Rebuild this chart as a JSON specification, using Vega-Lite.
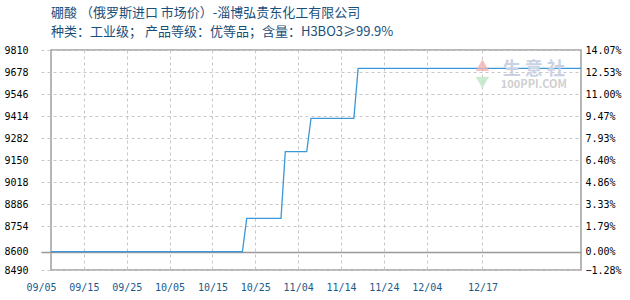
{
  "$schema": "https://vega.github.io/schema/vega-lite/v6.json",
  "autosize": {"type": "none"},
  "width": 530,
  "height": 220,
  "padding": {"left": 51, "top": 50, "right": 49, "bottom": 30},
  "background": "white",
  "title": {
    "text": "硼酸 （俄罗斯进口 市场价）-淄博弘贵东化工有限公司",
    "subtitle": "种类：工业级；  产品等级：优等品；含量：H3BO3≥99.9%",
    "anchor": "start",
    "frame": "group",
    "font": "Noto Sans CJK SC",
    "fontSize": 13,
    "fontWeight": "normal",
    "color": "#1a4f7a",
    "subtitleFont": "Noto Sans CJK SC",
    "subtitleFontSize": 13,
    "subtitleColor": "#1a4f7a",
    "subtitlePadding": 6,
    "offset": 6
  },
  "config": {
    "view": {"stroke": "#a0a0a0", "strokeWidth": 1.5},
    "axis": {
      "labelFont": "DejaVu Sans Mono",
      "labelFontSize": 10,
      "ticks": false,
      "domain": false,
      "title": null
    }
  },
  "layer": [
    {
      "data": {
        "values": [
          {"date": "2023/09/07", "price": 8600},
          {"date": "2023/10/22", "price": 8600},
          {"date": "2023/10/23", "price": 8800},
          {"date": "2023/10/31", "price": 8800},
          {"date": "2023/11/01", "price": 9200},
          {"date": "2023/11/06", "price": 9200},
          {"date": "2023/11/07", "price": 9400},
          {"date": "2023/11/17", "price": 9400},
          {"date": "2023/11/18", "price": 9700},
          {"date": "2024/01/09", "price": 9700}
        ]
      },
      "mark": {"type": "line", "color": "#3a98d8", "strokeWidth": 1.3, "clip": true},
      "encoding": {
        "x": {
          "field": "date",
          "type": "temporal",
          "scale": {
            "domain": [{"year": 2023, "month": 9, "date": 5}, {"year": 2024, "month": 1, "date": 9}],
            "range": [-10, 530]
          },
          "axis": {
            "values": [
              {"year": 2023, "month": 9, "date": 5},
              {"year": 2023, "month": 9, "date": 15},
              {"year": 2023, "month": 9, "date": 25},
              {"year": 2023, "month": 10, "date": 5},
              {"year": 2023, "month": 10, "date": 15},
              {"year": 2023, "month": 10, "date": 25},
              {"year": 2023, "month": 11, "date": 4},
              {"year": 2023, "month": 11, "date": 14},
              {"year": 2023, "month": 11, "date": 24},
              {"year": 2023, "month": 12, "date": 4},
              {"year": 2023, "month": 12, "date": 17}
            ],
            "format": "%m/%d",
            "labelColor": "#1a5a8a",
            "labelPadding": 12,
            "labelFlush": false,
            "labelOverlap": false,
            "grid": true,
            "gridColor": "#c8c8c8",
            "gridDash": [3, 3],
            "gridOpacity": {"condition": {"test": "datum.value < datetime(2023, 8, 6)", "value": 0}, "value": 1}
          }
        },
        "y": {
          "field": "price",
          "type": "quantitative",
          "scale": {"domain": [8490, 9810], "nice": false, "zero": false},
          "axis": {
            "orient": "left",
            "values": [8490, 8600, 8754, 8886, 9018, 9150, 9282, 9414, 9546, 9678, 9810],
            "format": "d",
            "labelPadding": 23,
            "grid": true,
            "gridColor": {"condition": {"test": "datum.value == 8600", "value": "#999999"}, "value": "#c8c8c8"},
            "gridDash": {"condition": {"test": "datum.value == 8600", "value": []}, "value": [3, 3]},
            "gridWidth": {"condition": {"test": "datum.value == 8600", "value": 1.5}, "value": 1},
            "encode": {
              "labels": {
                "update": {
                  "fill": {"signal": "datum.value > 8600 ? '#ff3333' : datum.value == 8600 ? '#000000' : '#33aa33'"}
                }
              }
            }
          }
        }
      }
    },
    {
      "data": {
        "values": [
          {"date": "2023/12/29", "price": 9693, "label": "生 意 社", "kind": "big"},
          {"date": "2023/12/29", "price": 9598, "label": "100PPI.COM", "kind": "small"}
        ]
      },
      "mark": {"type": "text", "font": "Noto Sans CJK SC", "fontWeight": "bold"},
      "encoding": {
        "x": {"field": "date", "type": "temporal"},
        "y": {
          "field": "price",
          "type": "quantitative",
          "axis": {
            "orient": "right",
            "values": [8490, 8600, 8754, 8886, 9018, 9150, 9282, 9414, 9546, 9678, 9810],
            "labelExpr": "format((datum.value - 8600) / 86, '.2f') + '%'",
            "labelPadding": 4,
            "grid": false,
            "encode": {
              "labels": {
                "update": {
                  "fill": {"signal": "datum.value > 8600 ? '#ff3333' : datum.value == 8600 ? '#000000' : '#33aa33'"}
                }
              }
            }
          }
        },
        "text": {"field": "label"},
        "size": {"field": "kind", "type": "nominal", "scale": {"domain": ["big", "small"], "range": [18, 11]}, "legend": null},
        "color": {"field": "kind", "type": "nominal", "scale": {"domain": ["big", "small"], "range": ["#c9d1e2", "#cfcfcf"]}, "legend": null}
      }
    },
    {
      "data": {
        "values": [
          {"date": "2023/12/17", "price": 9719, "shape": "up"},
          {"date": "2023/12/17", "price": 9615, "shape": "down"}
        ]
      },
      "mark": {"type": "point", "filled": true, "size": 180, "opacity": 0.8},
      "encoding": {
        "x": {"field": "date", "type": "temporal"},
        "y": {"field": "price", "type": "quantitative", "axis": null},
        "shape": {"field": "shape", "type": "nominal", "scale": {"domain": ["up", "down"], "range": ["triangle-up", "triangle-down"]}, "legend": null},
        "color": {"field": "shape", "type": "nominal", "scale": {"domain": ["up", "down"], "range": ["#f2b3b3", "#bde6c4"]}, "legend": null}
      }
    }
  ],
  "resolve": {"axis": {"y": "independent"}, "scale": {"color": "independent", "size": "independent", "shape": "independent"}}
}
